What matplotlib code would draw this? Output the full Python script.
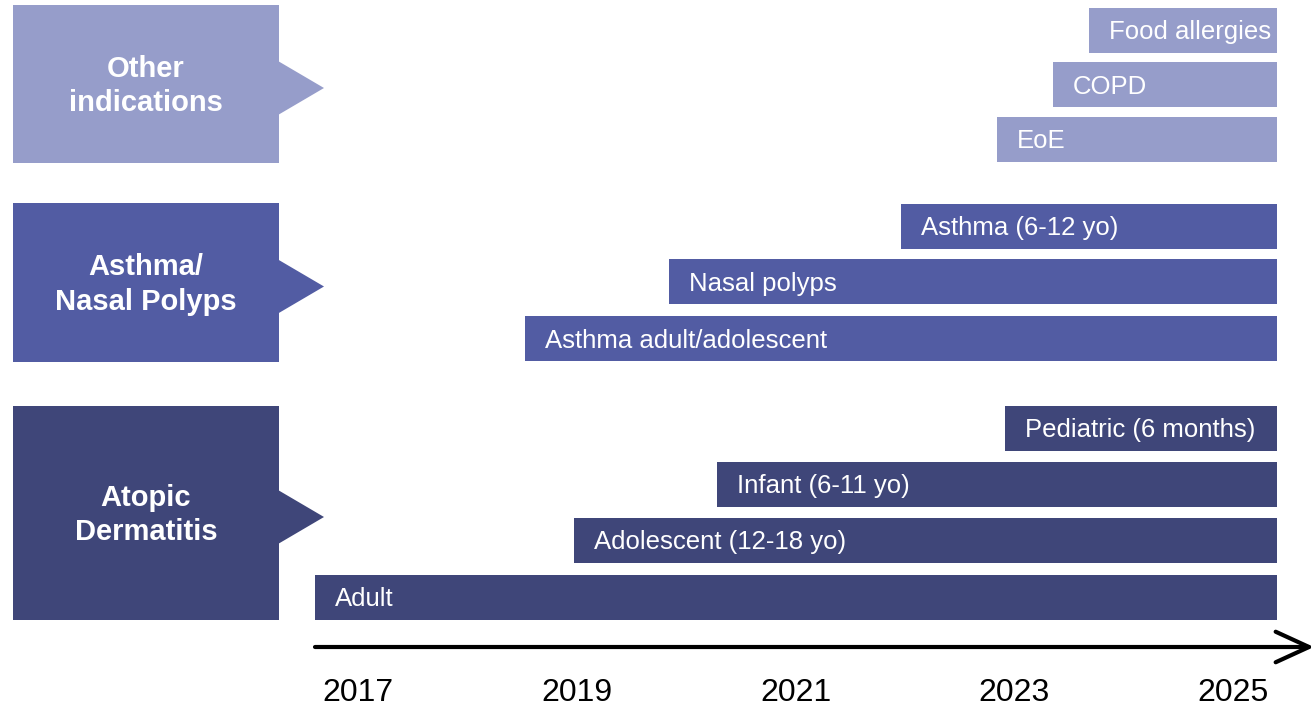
import matplotlib
matplotlib.use("Agg")
import matplotlib.pyplot as plt
from matplotlib.patches import Polygon

plt.rcParams["font.family"] = ["Liberation Sans", "DejaVu Sans"]

# --- data -----------------------------------------------------------------
LIGHT, MID, DARK = "#969dca", "#525ca3", "#3f4679"

groups = ["Other\nindications", "Asthma/\nNasal Polyps", "Atopic\nDermatitis"]
group_colors = [LIGHT, MID, DARK]
group_top = [5, 203, 406]        # px
group_bottom = [163, 362, 620]   # px

labels = ["Food allergies", "COPD", "EoE",
          "Asthma (6-12 yo)", "Nasal polyps", "Asthma adult/adolescent",
          "Pediatric (6 months)", "Infant (6-11 yo)", "Adolescent (12-18 yo)", "Adult"]
starts = [2023.68, 2023.35, 2022.84,
          2021.96, 2019.84, 2018.53,
          2022.91, 2020.28, 2018.97, 2016.61]
end = 2025.40
row_group = [0, 0, 0, 1, 1, 1, 2, 2, 2, 2]
row_y = [30, 84.5, 139.5, 226, 281.5, 338.5, 428.5, 484.5, 540.5, 597.5]  # px centres
bar_h = 45

years = [2017, 2019, 2021, 2023, 2025]

# --- layout ---------------------------------------------------------------
W, H = 1316, 709
PX0, PXPY = 358.0, 109.4   # pixel of 2017 and pixels per year

fig = plt.figure(figsize=(W / 100, H / 100), dpi=100)

# pixel-space overlay for the boxes and timeline
bg = fig.add_axes([0, 0, 1, 1])
bg.set_xlim(0, W); bg.set_ylim(H, 0); bg.axis("off")

# year-space axes for the bars
ax = fig.add_axes([0, 0, 1, 1])
ax.set_xlim(2017 - PX0 / PXPY, 2017 + (W - PX0) / PXPY)
ax.set_ylim(H, 0)
ax.axis("off")
ax.patch.set_alpha(0)

for name, col, top, bot in zip(groups, group_colors, group_top, group_bottom):
    bg.add_patch(plt.Rectangle((13, top), 266, bot - top, color=col, lw=0))
    mid = (top + bot) / 2 + 4
    bg.add_patch(Polygon([(278, mid - 27), (324, mid), (278, mid + 27)],
                         closed=True, color=col, lw=0))
    bg.text(146, (top + bot) / 2 + 2, name, color="white", fontsize=21,
            fontweight="bold", ha="center", va="center", linespacing=1.3)

for lab, s, g, y in zip(labels, starts, row_group, row_y):
    ax.barh(y, end - s, left=s, height=bar_h, color=group_colors[g], lw=0)
    ax.text(s + 20 / PXPY, y + 2, lab, color="white", fontsize=18.5,
            ha="left", va="center")

# timeline arrow
bg.annotate("", xy=(1314, 647), xytext=(315, 647),
            arrowprops=dict(arrowstyle="->,head_length=1.2,head_width=0.55",
                            lw=3, color="black", mutation_scale=20,
                            shrinkA=0, shrinkB=0))

for yr in years:
    ax.text(yr, 693, str(yr), fontsize=23, ha="center", va="center", color="black")

fig.savefig("out.png", dpi=100)
